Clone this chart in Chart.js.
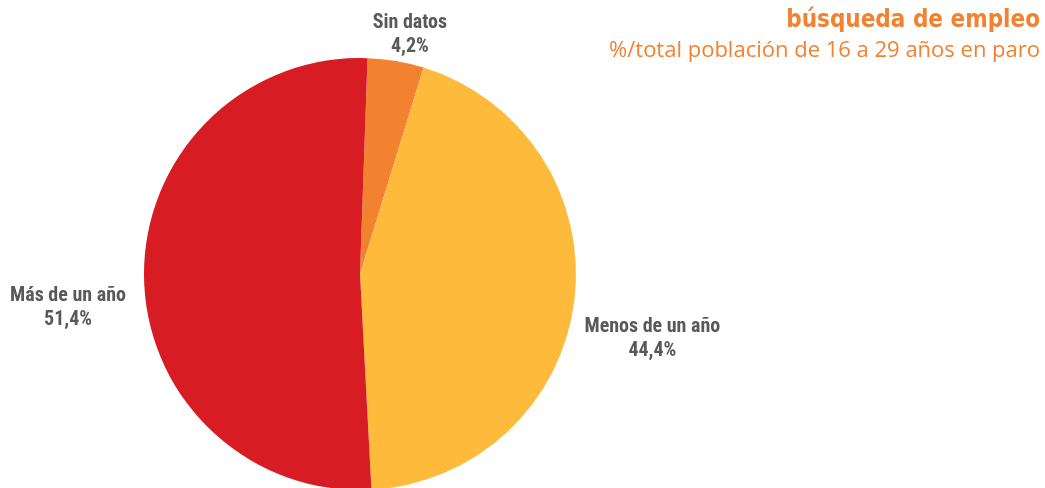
<!DOCTYPE html>
<html>
<head>
<meta charset="utf-8">
<script src="https://cdn.jsdelivr.net/npm/chart.js@4.4.0/dist/chart.umd.min.js"></script>
<style>
  html, body { margin: 0; padding: 0; background: #fff; overflow: hidden; }
  #wrap { position: relative; width: 1045px; height: 500px; }
</style>
</head>
<body>
<div id="wrap"><canvas id="myChart"></canvas></div>
<script>
// data
const categories = ["Sin datos", "Menos de un año", "Más de un año"];
const values = [4.2, 44.4, 51.4];
const valueLabels = ["4,2%", "44,4%", "51,4%"];
const sliceColors = ["#F28130", "#FDBA3B", "#D71C23"];
// label offsets from slice edge (px)
const labelOffsets = [[14, -38], [78, 27], [-76, 20]];

const labelFont = "bold 20px 'Liberation Sans Narrow', 'Roboto Condensed', Roboto, sans-serif";

const pieLabels = {
  id: "pieLabels",
  afterDraw(chart) {
    const ctx = chart.ctx;
    const meta = chart.getDatasetMeta(0);
    ctx.save();
    ctx.fillStyle = "#595959";
    ctx.font = labelFont;
    ctx.textAlign = "center";
    ctx.textBaseline = "middle";
    meta.data.forEach((arc, i) => {
      const p = arc.getProps(["x", "y", "startAngle", "endAngle", "outerRadius"], true);
      const mid = (p.startAngle + p.endAngle) / 2;
      const x = p.x + Math.cos(mid) * p.outerRadius + labelOffsets[i][0];
      const y = p.y + Math.sin(mid) * p.outerRadius + labelOffsets[i][1];
      ctx.fillText(categories[i], x, y);
      ctx.fillText(valueLabels[i], x, y + 24);
    });

    // title
    ctx.fillStyle = "#F28130";
    ctx.textAlign = "right";
    ctx.textBaseline = "alphabetic";
    ctx.font = "bold 24px 'DejaVu Sans Condensed', 'Open Sans', sans-serif";
    ctx.fillText("búsqueda de empleo", 1040, 27);
    ctx.font = "22px 'Open Sans', sans-serif";
    ctx.fillText("%/total población de 16 a 29 años en paro", 1040, 57);
    ctx.restore();
  }
};

new Chart("myChart", {
  type: "pie",
  data: {
    labels: categories,
    datasets: [
      {
        data: values,
        backgroundColor: sliceColors,
        borderWidth: 0,
      },
    ],
  },
  options: {
    responsive: true,
    maintainAspectRatio: false,
    animation: false,
    rotation: 2,
    layout: {
      padding: { top: 58, bottom: 10, left: 144, right: 469 },
    },
    plugins: {
      legend: { display: false },
      tooltip: { enabled: false },
    },
  },
  plugins: [pieLabels],
});
</script>
</body>
</html>
